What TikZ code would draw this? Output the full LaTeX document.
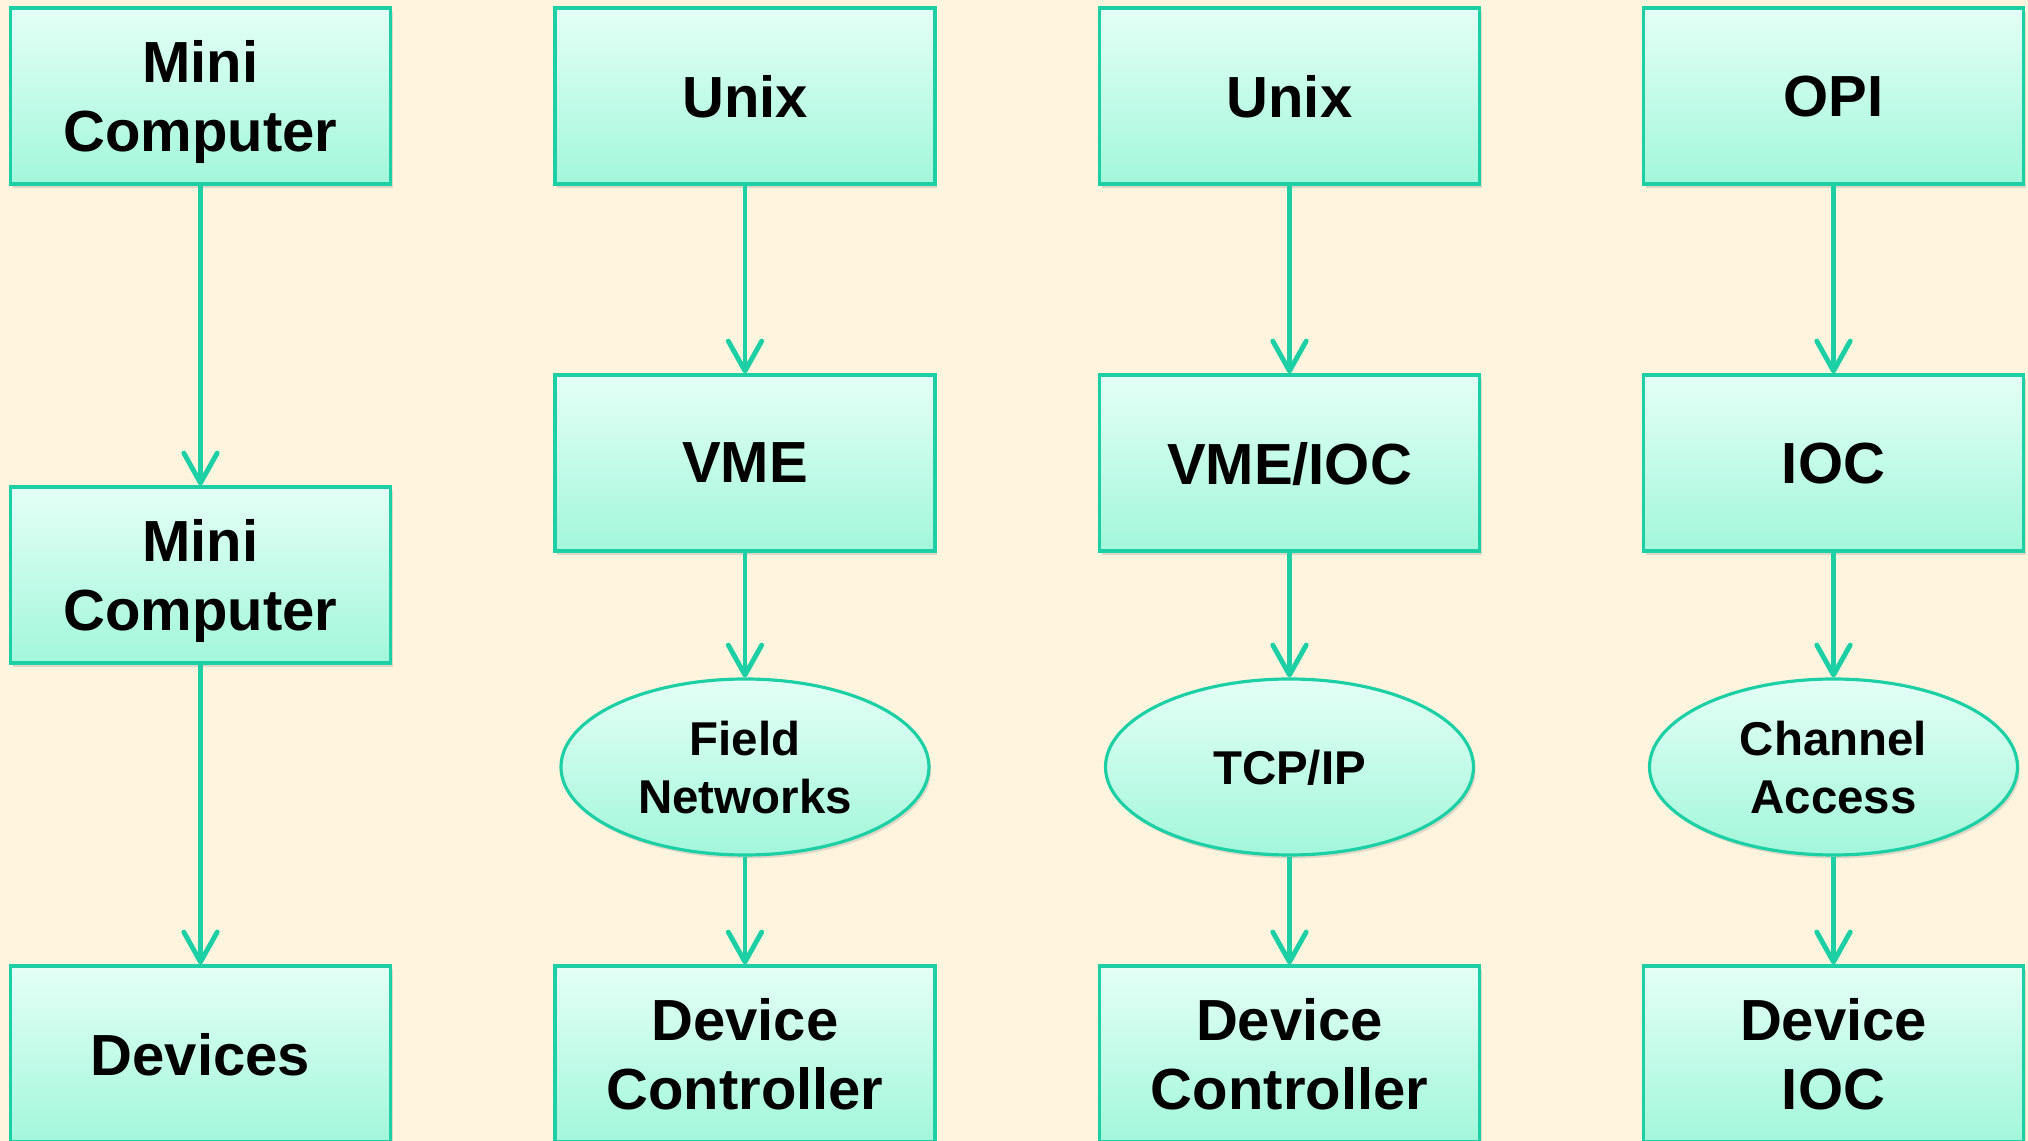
\documentclass[tikz,border=0pt]{standalone}
\usepackage{fontspec}
\setmainfont{Liberation Sans}
\usepackage{tikz}
\usetikzlibrary{arrows.meta,positioning,shapes.geometric,shadows}

\definecolor{paper}{HTML}{FFF5DF}
\definecolor{teal}{HTML}{1DCFA4}
\definecolor{mintlo}{HTML}{A2F7DB}
\definecolor{minthi}{HTML}{E4FFF6}

\tikzset{
	layer/.style={draw=teal, line width=0.9pt, rectangle, top color=minthi, bottom color=mintlo,
		minimum width=3.8cm, minimum height=1.76cm, inner sep=0pt, align=center, text depth=0pt,
		font=\fontsize{16.5}{19.6}\selectfont\bfseries,
		drop shadow={opacity=0.25, shadow xshift=0.6pt, shadow yshift=-1pt}},
	link/.style={draw=teal, line width=0.9pt, ellipse, top color=minthi, bottom color=mintlo,
		minimum width=3.68cm, minimum height=1.76cm, inner sep=0pt, align=center, text depth=0pt,
		font=\fontsize{13.5}{16.5}\selectfont\bfseries,
		drop shadow={opacity=0.25, shadow xshift=0.6pt, shadow yshift=-1pt}},
}

\begin{document}
\begin{tikzpicture}[->,>={Straight Barb[length=8.5pt,width=9.5pt,line cap=round,line join=round]},
		every edge/.style={draw=teal, line width=1.4pt}]
		\fill[paper] (0,0) rectangle (20.28,-11.41);
		\useasboundingbox (0,0) rectangle (20.28,-11.41);

		% first column
		\node[layer] (m0) at (2.005,-0.96)  {Mini\\Computer};
		\node[layer] (m1) at (2.005,-5.75)  {Mini\\Computer};
		\node[layer] (m2) at (2.005,-10.54) {Devices};

		% second column
		\node[layer] (u0) at (7.45,-0.96)  {Unix};
		\node[layer] (u1) at (7.45,-4.63)  {VME};
		\node[link]  (u2) at (7.45,-7.67)  {Field\\Networks};
		\node[layer] (u3) at (7.45,-10.54) {Device\\Controller};

		% third column
		\node[layer] (t0) at (12.895,-0.96)  {Unix};
		\node[layer] (t1) at (12.895,-4.63)  {VME/IOC};
		\node[link]  (t2) at (12.895,-7.67)  {TCP/IP};
		\node[layer] (t3) at (12.895,-10.54) {Device\\Controller};

		% fourth column
		\node[layer] (o0) at (18.335,-0.96)  {OPI};
		\node[layer] (o1) at (18.335,-4.63)  {IOC};
		\node[link]  (o2) at (18.335,-7.67)  {Channel\\Access};
		\node[layer] (o3) at (18.335,-10.54) {Device\\IOC};

		\path
			(m0) edge (m1)
			(m1) edge (m2);
		\path
			(u0) edge (u1)
			(u1) edge (u2)
			(u2) edge (u3);
		\path
			(t0) edge (t1)
			(t1) edge (t2)
			(t2) edge (t3);
		\path
			(o0) edge (o1)
			(o1) edge (o2)
			(o2) edge (o3);
	\end{tikzpicture}
\end{document}
